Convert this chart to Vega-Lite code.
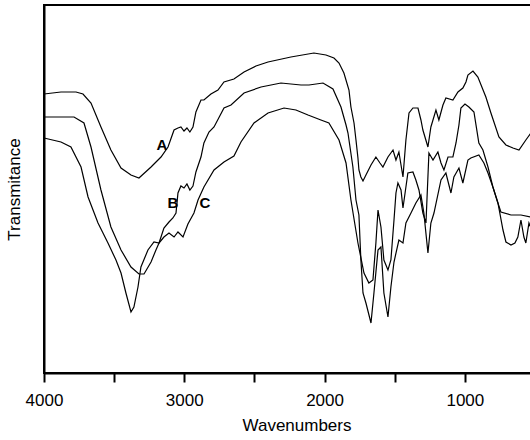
{
  "$schema": "https://vega.github.io/schema/vega-lite/v6.json",
  "width": 505,
  "height": 368,
  "padding": {"left": 5, "top": 5, "right": 0, "bottom": 0},
  "config": {"view": {"stroke": "black", "strokeWidth": 2}, "font": "Liberation Sans"},
  "datasets": {
    "spectra": [
      {"s":"A","wn":4000,"t":279},{"s":"A","wn":3879,"t":281},{"s":"A","wn":3772,"t":281},{"s":"A","wn":3722,"t":279},{"s":"A","wn":3665,"t":270},{"s":"A","wn":3594,"t":246},{"s":"A","wn":3523,"t":223},{"s":"A","wn":3451,"t":205},{"s":"A","wn":3380,"t":198},{"s":"A","wn":3323,"t":195},{"s":"A","wn":3237,"t":206},{"s":"A","wn":3166,"t":216},{"s":"A","wn":3116,"t":226},{"s":"A","wn":3073,"t":243},{"s":"A","wn":3045,"t":245},{"s":"A","wn":3024,"t":246},{"s":"A","wn":3002,"t":242},{"s":"A","wn":2981,"t":245},{"s":"A","wn":2960,"t":241},{"s":"A","wn":2938,"t":246},{"s":"A","wn":2917,"t":261},{"s":"A","wn":2881,"t":273},{"s":"A","wn":2860,"t":273},{"s":"A","wn":2810,"t":279},{"s":"A","wn":2760,"t":283},{"s":"A","wn":2717,"t":291},{"s":"A","wn":2646,"t":294},{"s":"A","wn":2574,"t":301},{"s":"A","wn":2489,"t":307},{"s":"A","wn":2403,"t":311},{"s":"A","wn":2240,"t":316},{"s":"A","wn":2076,"t":320},{"s":"A","wn":1990,"t":318},{"s":"A","wn":1933,"t":315},{"s":"A","wn":1897,"t":310},{"s":"A","wn":1862,"t":300},{"s":"A","wn":1826,"t":283},{"s":"A","wn":1812,"t":266},{"s":"A","wn":1790,"t":250},{"s":"A","wn":1776,"t":233},{"s":"A","wn":1762,"t":215},{"s":"A","wn":1755,"t":203},{"s":"A","wn":1741,"t":196},{"s":"A","wn":1726,"t":192},{"s":"A","wn":1705,"t":198},{"s":"A","wn":1669,"t":208},{"s":"A","wn":1634,"t":216},{"s":"A","wn":1605,"t":210},{"s":"A","wn":1584,"t":206},{"s":"A","wn":1548,"t":216},{"s":"A","wn":1512,"t":223},{"s":"A","wn":1491,"t":213},{"s":"A","wn":1470,"t":221},{"s":"A","wn":1441,"t":196},{"s":"A","wn":1420,"t":233},{"s":"A","wn":1398,"t":260},{"s":"A","wn":1370,"t":265},{"s":"A","wn":1334,"t":265},{"s":"A","wn":1313,"t":253},{"s":"A","wn":1299,"t":243},{"s":"A","wn":1263,"t":226},{"s":"A","wn":1242,"t":246},{"s":"A","wn":1206,"t":263},{"s":"A","wn":1185,"t":253},{"s":"A","wn":1156,"t":268},{"s":"A","wn":1135,"t":275},{"s":"A","wn":1085,"t":273},{"s":"A","wn":1049,"t":281},{"s":"A","wn":1014,"t":285},{"s":"A","wn":992,"t":291},{"s":"A","wn":978,"t":298},{"s":"A","wn":942,"t":302},{"s":"A","wn":907,"t":296},{"s":"A","wn":850,"t":276},{"s":"A","wn":814,"t":260},{"s":"A","wn":757,"t":236},{"s":"A","wn":707,"t":228},{"s":"A","wn":657,"t":225},{"s":"A","wn":614,"t":223},{"s":"A","wn":565,"t":233},{"s":"A","wn":529,"t":240},{"s":"A","wn":480,"t":248},
      {"s":"B","wn":4000,"t":256},{"s":"B","wn":3879,"t":256},{"s":"B","wn":3786,"t":256},{"s":"B","wn":3715,"t":250},{"s":"B","wn":3665,"t":226},{"s":"B","wn":3594,"t":183},{"s":"B","wn":3523,"t":146},{"s":"B","wn":3451,"t":123},{"s":"B","wn":3380,"t":106},{"s":"B","wn":3323,"t":99},{"s":"B","wn":3287,"t":99},{"s":"B","wn":3237,"t":111},{"s":"B","wn":3202,"t":123},{"s":"B","wn":3180,"t":130},{"s":"B","wn":3145,"t":145},{"s":"B","wn":3109,"t":151},{"s":"B","wn":3081,"t":155},{"s":"B","wn":3059,"t":160},{"s":"B","wn":3045,"t":180},{"s":"B","wn":3024,"t":187},{"s":"B","wn":3002,"t":185},{"s":"B","wn":2981,"t":189},{"s":"B","wn":2960,"t":183},{"s":"B","wn":2938,"t":187},{"s":"B","wn":2917,"t":201},{"s":"B","wn":2881,"t":216},{"s":"B","wn":2860,"t":230},{"s":"B","wn":2824,"t":241},{"s":"B","wn":2788,"t":246},{"s":"B","wn":2717,"t":265},{"s":"B","wn":2667,"t":268},{"s":"B","wn":2574,"t":280},{"s":"B","wn":2453,"t":286},{"s":"B","wn":2311,"t":290},{"s":"B","wn":2168,"t":288},{"s":"B","wn":2111,"t":288},{"s":"B","wn":2011,"t":290},{"s":"B","wn":1940,"t":284},{"s":"B","wn":1883,"t":266},{"s":"B","wn":1847,"t":248},{"s":"B","wn":1833,"t":240},{"s":"B","wn":1798,"t":206},{"s":"B","wn":1776,"t":173},{"s":"B","wn":1755,"t":158},{"s":"B","wn":1741,"t":113},{"s":"B","wn":1726,"t":80},{"s":"B","wn":1705,"t":70},{"s":"B","wn":1669,"t":50},{"s":"B","wn":1648,"t":80},{"s":"B","wn":1619,"t":123},{"s":"B","wn":1598,"t":126},{"s":"B","wn":1577,"t":80},{"s":"B","wn":1548,"t":56},{"s":"B","wn":1527,"t":86},{"s":"B","wn":1505,"t":111},{"s":"B","wn":1470,"t":133},{"s":"B","wn":1441,"t":130},{"s":"B","wn":1420,"t":150},{"s":"B","wn":1384,"t":160},{"s":"B","wn":1349,"t":170},{"s":"B","wn":1313,"t":178},{"s":"B","wn":1292,"t":160},{"s":"B","wn":1263,"t":120},{"s":"B","wn":1242,"t":150},{"s":"B","wn":1220,"t":160},{"s":"B","wn":1170,"t":193},{"s":"B","wn":1135,"t":200},{"s":"B","wn":1099,"t":180},{"s":"B","wn":1078,"t":196},{"s":"B","wn":1042,"t":205},{"s":"B","wn":1014,"t":190},{"s":"B","wn":978,"t":213},{"s":"B","wn":957,"t":215},{"s":"B","wn":900,"t":218},{"s":"B","wn":864,"t":210},{"s":"B","wn":835,"t":200},{"s":"B","wn":800,"t":186},{"s":"B","wn":764,"t":170},{"s":"B","wn":743,"t":161},{"s":"B","wn":671,"t":158},{"s":"B","wn":600,"t":158},{"s":"B","wn":529,"t":156},{"s":"B","wn":480,"t":156},
      {"s":"C","wn":4000,"t":235},{"s":"C","wn":3879,"t":231},{"s":"C","wn":3808,"t":226},{"s":"C","wn":3736,"t":206},{"s":"C","wn":3686,"t":176},{"s":"C","wn":3615,"t":150},{"s":"C","wn":3544,"t":130},{"s":"C","wn":3487,"t":113},{"s":"C","wn":3451,"t":100},{"s":"C","wn":3416,"t":80},{"s":"C","wn":3380,"t":61},{"s":"C","wn":3359,"t":66},{"s":"C","wn":3330,"t":86},{"s":"C","wn":3309,"t":106},{"s":"C","wn":3259,"t":123},{"s":"C","wn":3216,"t":131},{"s":"C","wn":3180,"t":130},{"s":"C","wn":3145,"t":136},{"s":"C","wn":3109,"t":140},{"s":"C","wn":3073,"t":136},{"s":"C","wn":3045,"t":141},{"s":"C","wn":3009,"t":136},{"s":"C","wn":2974,"t":149},{"s":"C","wn":2931,"t":160},{"s":"C","wn":2902,"t":173},{"s":"C","wn":2860,"t":186},{"s":"C","wn":2788,"t":203},{"s":"C","wn":2717,"t":211},{"s":"C","wn":2646,"t":217},{"s":"C","wn":2596,"t":231},{"s":"C","wn":2503,"t":250},{"s":"C","wn":2403,"t":260},{"s":"C","wn":2289,"t":265},{"s":"C","wn":2204,"t":263},{"s":"C","wn":2118,"t":258},{"s":"C","wn":2026,"t":253},{"s":"C","wn":1969,"t":250},{"s":"C","wn":1897,"t":233},{"s":"C","wn":1847,"t":210},{"s":"C","wn":1812,"t":173},{"s":"C","wn":1762,"t":130},{"s":"C","wn":1719,"t":100},{"s":"C","wn":1684,"t":90},{"s":"C","wn":1655,"t":93},{"s":"C","wn":1634,"t":130},{"s":"C","wn":1619,"t":163},{"s":"C","wn":1598,"t":146},{"s":"C","wn":1577,"t":113},{"s":"C","wn":1548,"t":103},{"s":"C","wn":1527,"t":113},{"s":"C","wn":1505,"t":153},{"s":"C","wn":1491,"t":180},{"s":"C","wn":1477,"t":190},{"s":"C","wn":1455,"t":183},{"s":"C","wn":1441,"t":165},{"s":"C","wn":1406,"t":200},{"s":"C","wn":1370,"t":201},{"s":"C","wn":1349,"t":193},{"s":"C","wn":1327,"t":183},{"s":"C","wn":1299,"t":160},{"s":"C","wn":1277,"t":150},{"s":"C","wn":1256,"t":220},{"s":"C","wn":1227,"t":213},{"s":"C","wn":1192,"t":221},{"s":"C","wn":1170,"t":210},{"s":"C","wn":1149,"t":203},{"s":"C","wn":1120,"t":216},{"s":"C","wn":1085,"t":216},{"s":"C","wn":1063,"t":230},{"s":"C","wn":1042,"t":248},{"s":"C","wn":1028,"t":265},{"s":"C","wn":999,"t":269},{"s":"C","wn":971,"t":266},{"s":"C","wn":935,"t":261},{"s":"C","wn":900,"t":230},{"s":"C","wn":871,"t":223},{"s":"C","wn":835,"t":206},{"s":"C","wn":800,"t":186},{"s":"C","wn":764,"t":170},{"s":"C","wn":728,"t":143},{"s":"C","wn":707,"t":131},{"s":"C","wn":671,"t":128},{"s":"C","wn":643,"t":130},{"s":"C","wn":622,"t":136},{"s":"C","wn":600,"t":153},{"s":"C","wn":579,"t":136},{"s":"C","wn":565,"t":130},{"s":"C","wn":543,"t":150},{"s":"C","wn":529,"t":145},{"s":"C","wn":480,"t":150}
    ],
    "labels": [
      {"s":"A","wn":3159,"t":228},
      {"s":"B","wn":3081,"t":170},
      {"s":"C","wn":2852,"t":170}
    ]
  },
  "layer": [
    {
      "data": {"name": "spectra"},
      "mark": {"type": "line", "color": "black", "strokeWidth": 1.2},
      "encoding": {
        "x": {"field": "wn", "type": "quantitative",
          "scale": {"domain": [4000, 400], "nice": false, "zero": false},
          "axis": {"title": "Wavenumbers", "values": [4000, 3500, 3000, 2500, 2000, 1500, 1000, 500],
            "format": "d", "labelExpr": "datum.value % 1000 === 0 ? datum.label : ''",
            "tickSize": 9, "tickWidth": 2, "domainWidth": 2, "domainColor": "black", "tickColor": "black",
            "labelFontSize": 17, "labelColor": "black", "labelPadding": 10, "labelFlush": false,
            "titleFontSize": 17, "titleFontWeight": "normal", "titleColor": "black", "titlePadding": 9, "grid": false}},
        "y": {"field": "t", "type": "quantitative",
          "scale": {"domain": [0, 368], "nice": false, "zero": false},
          "axis": {"title": "Transmitance", "labels": false, "ticks": false, "grid": false,
            "domainWidth": 2, "domainColor": "black",
            "titleFontSize": 17, "titleFontWeight": "normal", "titleColor": "black", "titlePadding": 21}},
        "detail": {"field": "s"}
      }
    },
    {
      "data": {"name": "labels"},
      "mark": {"type": "text", "fontWeight": "bold", "fontSize": 15, "color": "black"},
      "encoding": {
        "x": {"field": "wn", "type": "quantitative"},
        "y": {"field": "t", "type": "quantitative"},
        "text": {"field": "s"}
      }
    }
  ]
}
